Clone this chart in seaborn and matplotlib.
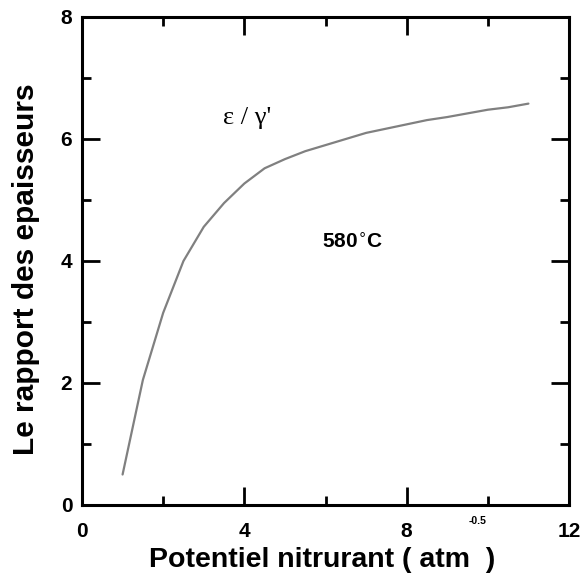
import matplotlib
matplotlib.use("Agg")
import matplotlib.pyplot as plt
from matplotlib.ticker import MultipleLocator
import seaborn as sns
import pandas as pd

# Nitriding potential (atm^-0.5) and epsilon/gamma' layer thickness ratio
potential = [1.0, 1.5, 2.0, 2.5, 3.0, 3.5, 4.0, 4.5, 5.0, 5.5, 6.0,
             6.5, 7.0, 7.5, 8.0, 8.5, 9.0, 9.5, 10.0, 10.5, 11.0]
ratio = [0.5, 2.05, 3.15, 4.0, 4.56, 4.95, 5.27, 5.52, 5.67, 5.8, 5.9,
         6.0, 6.1, 6.17, 6.24, 6.31, 6.36, 6.42, 6.48, 6.52, 6.58]

x_ticks = [0, 4, 8, 12]
y_ticks = [0, 2, 4, 6, 8]

sns.set_style("ticks")
plt.rcParams["font.family"] = ["Liberation Sans", "DejaVu Sans"]
plt.rcParams.update({"text.color": "black", "axes.labelcolor": "black",
                     "xtick.color": "black", "ytick.color": "black"})

df = pd.DataFrame({"potential": potential, "ratio": ratio})

fig = plt.figure(figsize=(5.83, 5.75), dpi=100)
ax = fig.add_axes([82 / 583, 70 / 575, 487 / 583, 488 / 575])

sns.lineplot(data=df, x="potential", y="ratio", ax=ax,
             color="#808080", linewidth=1.6)

ax.set_xlim(0, 12)
ax.set_ylim(0, 8)
ax.set_xticks(x_ticks)
ax.set_yticks(y_ticks)
ax.set_xticklabels([str(v) for v in x_ticks])
ax.set_yticklabels([str(v) for v in y_ticks])
ax.xaxis.set_minor_locator(MultipleLocator(2))
ax.yaxis.set_minor_locator(MultipleLocator(1))

for side in ax.spines.values():
    side.set_linewidth(2.2)
    side.set_color("black")

ax.tick_params(which="both", direction="in", top=True, right=True,
               width=2.0, color="black")
ax.tick_params(which="major", length=13)
ax.tick_params(which="minor", length=6.5)
ax.tick_params(axis="x", which="major", pad=12, labelsize=15)
ax.tick_params(axis="y", which="major", pad=7, labelsize=15)
for lab in ax.get_xticklabels() + ax.get_yticklabels():
    lab.set_fontweight("bold")

ax.set_ylabel("Le rapport des epaisseurs", fontsize=21.5, fontweight="bold")
ax.yaxis.set_label_coords(-0.086, 0.484)
ax.set_xlabel("Potentiel nitrurant ( atm  )", fontsize=20.5, fontweight="bold")
ax.xaxis.set_label_coords((322 - 82) / 487, -0.086)
fig.text(478 / 583, 1 - 521 / 575, "-0.5", fontsize=7.5, fontweight="bold",
         ha="center", va="center")

ax.text(4.06, 6.34, "ε / γ'", fontsize=19, family=["Liberation Serif"],
        ha="center", va="center")
ax.text(6.67, 4.30, "580$^{\\circ}$C", fontsize=15, fontweight="bold",
        ha="center", va="center")

fig.savefig("out.png", dpi=100)
